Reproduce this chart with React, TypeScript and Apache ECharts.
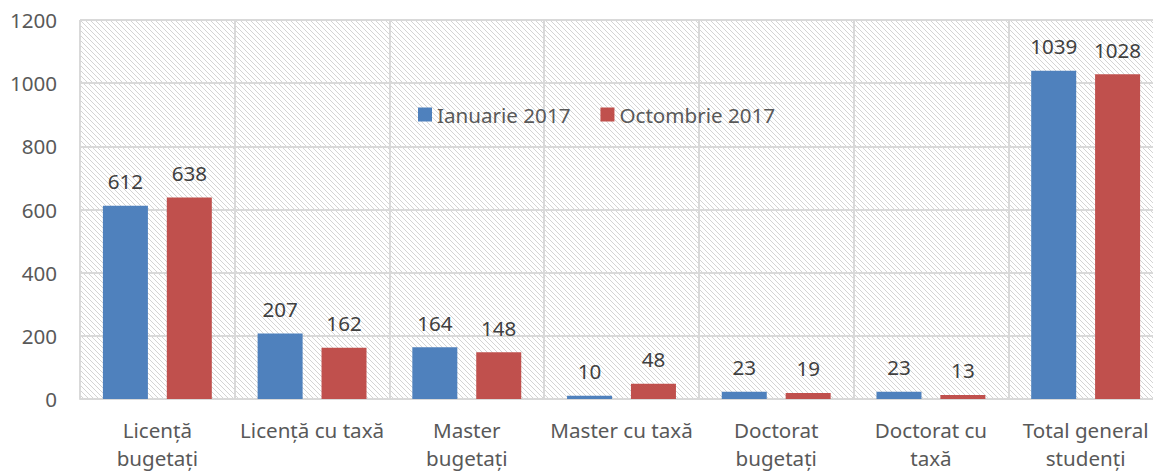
import React, { useEffect, useRef } from "react";
import * as echarts from "echarts";

const categories = [
  "Licență\nbugetați",
  "Licență cu taxă",
  "Master\nbugetați",
  "Master cu taxă",
  "Doctorat\nbugetați",
  "Doctorat cu\ntaxă",
  "Total general\nstudenți",
];
const seriesNames = ["Ianuarie 2017", "Octombrie 2017"];
const ianuarie = [612, 207, 164, 10, 23, 23, 1039];
const octombrie = [638, 162, 148, 48, 19, 13, 1028];
const yTicks = { min: 0, max: 1200, interval: 200 };

const FONT = "'Noto Sans', sans-serif";
const FS = 20.6;

function makeHatch() {
  const s = 5;
  const c = document.createElement("canvas");
  c.width = s;
  c.height = s;
  const ctx = c.getContext("2d")!;
  ctx.fillStyle = "#ffffff";
  ctx.fillRect(0, 0, s, s);
  ctx.strokeStyle = "#d4d4d4";
  ctx.lineWidth = 1;
  ctx.beginPath();
  ctx.moveTo(-1, -1);
  ctx.lineTo(s + 1, s + 1);
  ctx.moveTo(-1, s - 1);
  ctx.lineTo(1, s + 1);
  ctx.moveTo(s - 1, -1);
  ctx.lineTo(s + 1, 1);
  ctx.stroke();
  return c;
}

export default function App() {
  const ref = useRef<HTMLDivElement>(null);
  useEffect(() => {
    const chart = echarts.init(ref.current!, null, { renderer: "svg" });
    const labelStyle = {
      show: true,
      position: "top" as const,
      distance: 14,
      fontFamily: FONT,
      fontSize: FS,
      color: "#404040",
    };
    chart.setOption({
      animation: false,
      backgroundColor: "#ffffff",
      textStyle: { fontFamily: FONT },
      grid: {
        left: 80,
        right: 0,
        top: 20,
        bottom: 73,
        show: true,
        borderWidth: 0,
        backgroundColor: { image: makeHatch(), repeat: "repeat" },
      },
      legend: {
        left: 413,
        top: 99,
        itemWidth: 14,
        itemHeight: 14,
        itemGap: 30,
        icon: "rect",
        textStyle: { fontFamily: FONT, fontSize: FS, color: "#595959" },
        data: seriesNames,
      },
      xAxis: {
        type: "category",
        data: categories,
        axisLine: { show: true, lineStyle: { color: "#d9d9d9", width: 2 } },
        axisTick: { show: false },
        splitLine: { show: true, lineStyle: { color: "#d9d9d9", width: 2 } },
        axisLabel: {
          fontFamily: FONT,
          fontSize: FS,
          color: "#595959",
          lineHeight: 28,
          margin: 17,
          interval: 0,
        },
      },
      yAxis: {
        type: "value",
        min: yTicks.min,
        max: yTicks.max,
        interval: yTicks.interval,
        axisLine: { show: false },
        axisTick: { show: false },
        splitLine: { show: true, lineStyle: { color: "#d9d9d9", width: 2 } },
        axisLabel: {
          fontFamily: FONT,
          fontSize: FS,
          color: "#595959",
          margin: 23,
          formatter: (v: number) => String(v),
        },
      },
      series: [
        {
          name: seriesNames[0],
          type: "bar",
          data: ianuarie,
          barWidth: 45,
          barGap: "42%",
          itemStyle: { color: "#4f81bd" },
          label: labelStyle,
        },
        {
          name: seriesNames[1],
          type: "bar",
          data: octombrie,
          barWidth: 45,
          barGap: "42%",
          itemStyle: { color: "#c0504d" },
          label: labelStyle,
        },
      ],
    });
    return () => chart.dispose();
  }, []);
  return (
    <div
      ref={ref}
      style={{ position: "fixed", left: 0, top: 0, width: 1163, height: 472 }}
    />
  );
}
